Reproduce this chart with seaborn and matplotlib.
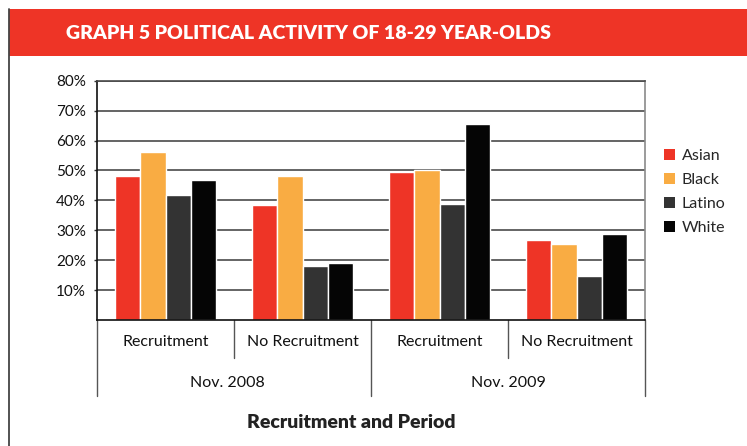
import numpy as np
import pandas as pd
import seaborn as sns
import matplotlib.pyplot as plt
import matplotlib.transforms as mtransforms
from matplotlib.patches import Patch, Rectangle
from matplotlib.lines import Line2D

# ---- data -------------------------------------------------------------
periods = ["Nov. 2008", "Nov. 2009"]
recruitment = ["Recruitment", "No Recruitment"]
groups = ["Asian", "Black", "Latino", "White"]

asian = [48.3, 38.6, 49.6, 26.7]
black = [56.2, 48.0, 50.3, 25.4]
latino = [41.8, 18.1, 38.9, 14.6]
white = [46.7, 19.2, 65.4, 28.7]

y_ticks = [10, 20, 30, 40, 50, 60, 70, 80]

colors = {"Asian": "#EE3426", "Black": "#F9AC43", "Latino": "#333333", "White": "#050505"}

# one slot per (period, recruitment) pair
slots = [f"{p}|{r}" for p in periods for r in recruitment]
rows = []
for g, vals in zip(groups, [asian, black, latino, white]):
    for s, v in zip(slots, vals):
        rows.append({"slot": s, "group": g, "pct": v})
df = pd.DataFrame(rows)

# ---- figure -------------------------------------------------------------
sns.set_theme(style="white")
plt.rcParams["font.family"] = ["Lato", "DejaVu Sans"]

W, H = 747, 446
fig = plt.figure(figsize=(W / 100, H / 100), dpi=100)
fig.patch.set_facecolor("white")

# red title banner and left frame edge
fig.patches.append(Rectangle((8.6 / W, 1 - 55.7 / H), 1, (55.7 - 9.3) / H,
                             transform=fig.transFigure, facecolor="#EE3426",
                             edgecolor="none", zorder=0))
fig.add_artist(Line2D([9 / W, 9 / W], [0, 1 - 9.3 / H], transform=fig.transFigure,
                      color="#444444", lw=1.3))
fig.text(66 / W, 1 - 33.5 / H, "GRAPH 5 POLITICAL ACTIVITY OF 18-29 YEAR-OLDS",
         color="white", weight="heavy", fontsize=14, ha="left", va="center")

ax = fig.add_axes([97 / W, 1 - 320 / H, (645 - 97) / W, (320 - 80.7) / H])

sns.barplot(data=df, x="slot", y="pct", hue="group", order=slots, hue_order=groups,
            palette=colors, width=0.73, gap=0, saturation=1, errorbar=None,
            legend=False, ax=ax)

ax.set_ylim(0, 80)
ax.set_xlim(-0.5, 3.5)
ax.set_yticks(y_ticks)
ax.set_yticklabels([f"{v}%" for v in y_ticks])
ax.set_xticks(range(len(slots)))
ax.set_xticklabels([s.split("|")[1] for s in slots])
ax.set_xlabel("")
ax.set_ylabel("")

ax.grid(axis="y", color="#4a4a4a", lw=1.2)
ax.grid(axis="x", visible=False)
ax.set_axisbelow(True)

ax.spines["left"].set_color("#111111")
ax.spines["left"].set_linewidth(1.2)
ax.spines["bottom"].set_color("#111111")
ax.spines["bottom"].set_linewidth(1.2)
ax.spines["top"].set_color("#4a4a4a")
ax.spines["top"].set_linewidth(1.2)
ax.spines["right"].set_color("#8a8a8a")
ax.spines["right"].set_linewidth(1.2)

ax.tick_params(axis="y", length=2, width=1, color="#333333", pad=6,
               labelsize=11, labelcolor="#111111", left=True)
ax.tick_params(axis="x", length=0, pad=11, labelsize=11.5, labelcolor="#111111")

# hierarchical category dividers below the axis
blend = mtransforms.blended_transform_factory(ax.transData, ax.transAxes)
for xv in [-0.5, 0.5, 1.5, 2.5, 3.5]:
    outer = xv in (-0.5, 1.5, 3.5)
    ybot = -0.318 if outer else -0.159
    ax.add_line(Line2D([xv, xv], [0, ybot], transform=blend, clip_on=False,
                       color="#555555", lw=1.0))

for xc, p in zip([0.45, 2.5], periods):
    ax.text(xc, -0.262, p, transform=blend, ha="center", va="center",
            fontsize=11.5, color="#111111")

ax.set_xlim(-0.5, 3.5)
ax.set_ylim(0, 80)

fig.text(351 / W, 1 - 423 / H, "Recruitment and Period", weight="heavy",
         fontsize=14, ha="center", va="center", color="#222222")

handles = [Patch(facecolor=colors[g], edgecolor="none") for g in groups]
fig.legend(handles, groups, loc="center left", bbox_to_anchor=(664 / W, 1 - 192 / H),
           frameon=False, fontsize=11.5, handlelength=0.7, handleheight=0.7,
           handletextpad=0.4, labelspacing=0.62, borderpad=0, borderaxespad=0)

fig.savefig("out.png", dpi=100)
